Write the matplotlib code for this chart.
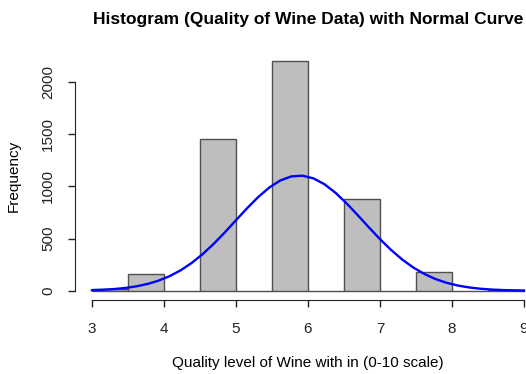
import numpy as np
import matplotlib
matplotlib.use("Agg")
import matplotlib.pyplot as plt

# white wine quality counts
quality = [3, 4, 5, 6, 7, 8, 9]
counts = [20, 163, 1457, 2198, 880, 175, 5]
breaks = [3.0, 3.5, 4.0, 4.5, 5.0, 5.5, 6.0, 6.5, 7.0, 7.5, 8.0, 8.5, 9.0]
xticks = [3, 4, 5, 6, 7, 8, 9]
yticks = [0, 500, 1000, 1500, 2000]

plt.rcParams["font.family"] = ["Liberation Sans", "DejaVu Sans"]

# put each count in its R-style bin (right-closed, lowest included)
bin_counts = np.zeros(len(breaks) - 1)
for q, c in zip(quality, counts):
    idx = max(np.searchsorted(breaks, q, side="left") - 1, 0)
    bin_counts[idx] += c

# normal fit from the same data
q = np.array(quality, dtype=float)
w = np.array(counts, dtype=float)
n = w.sum()
mu = (q * w).sum() / n
sd = np.sqrt(((q - mu) ** 2 * w).sum() / (n - 1))
binw = breaks[1] - breaks[0]
xfit = np.linspace(min(quality), max(quality), 40)
yfit = np.exp(-0.5 * ((xfit - mu) / sd) ** 2) / (sd * np.sqrt(2 * np.pi)) * binw * n

fig = plt.figure(figsize=(5.26, 3.74), dpi=100)
ax = fig.add_axes([0.142, 0.198, 0.887, 0.663])

lefts = np.array(breaks[:-1])
ax.bar(lefts, bin_counts, width=binw, align="edge", color="#bebebe",
       edgecolor="#505050", linewidth=1.0)
ax.plot(xfit, yfit, color="blue", linewidth=1.7)

ax.set_xlim(2.76, 9.24)
ax.set_ylim(-87.9, 2285.9)

for s in ["top", "right"]:
    ax.spines[s].set_visible(False)
ax.spines["bottom"].set_bounds(3, 9)
ax.spines["left"].set_bounds(0, 2000)
ax.spines["bottom"].set_color("#222222")
ax.spines["left"].set_color("#222222")

ax.set_xticks(xticks)
ax.set_yticks(yticks)
ax.set_yticklabels([str(t) for t in yticks], rotation=90, va="center")
ax.tick_params(direction="out", length=5, width=1, labelsize=11, colors="#222222")
ax.tick_params(axis="x", pad=11)
ax.tick_params(axis="y", pad=9)

ax.set_title("Histogram (Quality of Wine Data) with Normal Curve",
             fontsize=12.5, fontweight="bold", pad=20)
ax.set_xlabel("Quality level of Wine with in (0-10 scale)", fontsize=11, labelpad=14)
ax.set_ylabel("Frequency", fontsize=11, labelpad=15)

fig.savefig("out.png", dpi=100)
